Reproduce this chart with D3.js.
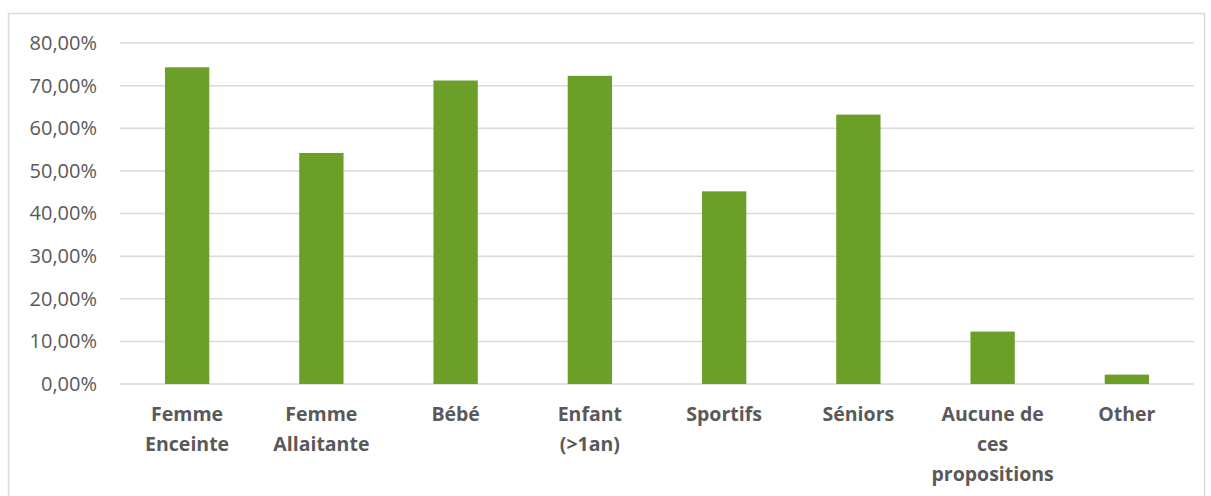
<!DOCTYPE html>
<html>
<head>
<meta charset="utf-8">
<script src="https://cdn.jsdelivr.net/npm/d3@7"></script>
<style>
  body { margin: 0; background: #fff; }
  text { font-family: "Open Sans", "Noto Sans", sans-serif; fill: #595959; }
</style>
</head>
<body>
<svg id="chart" width="1211" height="496"></svg>
<script>
// categories and values
const categories = ["Femme Enceinte", "Femme Allaitante", "Bébé", "Enfant (>1an)",
  "Sportifs", "Séniors", "Aucune de ces propositions", "Other"];
const values = [0.743, 0.542, 0.712, 0.723, 0.452, 0.632, 0.123, 0.022];
const yTicks = [0, 0.1, 0.2, 0.3, 0.4, 0.5, 0.6, 0.7, 0.8];

const svg = d3.select("#chart");
const margin = { left: 120, right: 17, top: 43, bottom: 112 };
const width = 1211, height = 496;

// chart frame
svg.append("rect")
  .attr("x", 8.5).attr("y", 13.5)
  .attr("width", 1196).attr("height", 500)
  .attr("fill", "none").attr("stroke", "#d9d9d9").attr("stroke-width", 1.5);

const x = d3.scaleBand()
  .domain(categories)
  .range([margin.left, width - margin.right])
  .paddingInner(0.67).paddingOuter(0.335);

const y = d3.scaleLinear()
  .domain([0, 0.8])
  .range([height - margin.bottom, margin.top]);

const fmt = d => d3.format(".2f")(d * 100).replace(".", ",") + "%";

// gridlines
svg.append("g")
  .selectAll("line")
  .data(yTicks)
  .join("line")
  .attr("x1", margin.left).attr("x2", width - margin.right)
  .attr("y1", d => y(d)).attr("y2", d => y(d))
  .attr("stroke", "#d9d9d9").attr("stroke-width", 1.5);

// y axis labels
const yAxis = svg.append("g")
  .attr("transform", `translate(${margin.left},0)`)
  .call(d3.axisLeft(y).tickValues(yTicks).tickFormat(fmt).tickSize(0).tickPadding(23));
yAxis.select(".domain").remove();
yAxis.selectAll("text")
  .style("font-size", "20px")
  .style("font-family", "'Open Sans', sans-serif")
  .attr("fill", "#595959");

// bars
svg.append("g")
  .selectAll("rect")
  .data(values)
  .join("rect")
  .attr("x", (d, i) => x(categories[i]))
  .attr("y", d => y(d))
  .attr("width", x.bandwidth())
  .attr("height", d => y(0) - y(d))
  .attr("fill", "#6b9f28");

// x labels, wrapped like Excel does
function wrap(textSel, maxW) {
  textSel.each(function(label) {
    const t = d3.select(this);
    const words = label.split(" ");
    let lines = [], line = [];
    const probe = t.append("tspan");
    words.forEach(w => {
      line.push(w);
      probe.text(line.join(" "));
      if (probe.node().getComputedTextLength() > maxW && line.length > 1) {
        line.pop();
        lines.push(line.join(" "));
        line = [w];
      }
    });
    lines.push(line.join(" "));
    probe.remove();
    t.selectAll("tspan")
      .data(lines)
      .join("tspan")
      .attr("x", t.attr("x"))
      .attr("dy", (d, i) => (i === 0 ? 0 : 30))
      .text(d => d);
  });
}

svg.append("g")
  .selectAll("text")
  .data(categories)
  .join("text")
  .attr("x", d => x(d) + x.bandwidth() / 2)
  .attr("y", 421)
  .attr("text-anchor", "middle")
  .style("font-size", "19.5px")
  .style("font-weight", "bold")
  .call(wrap, 126);
</script>
</body>
</html>
